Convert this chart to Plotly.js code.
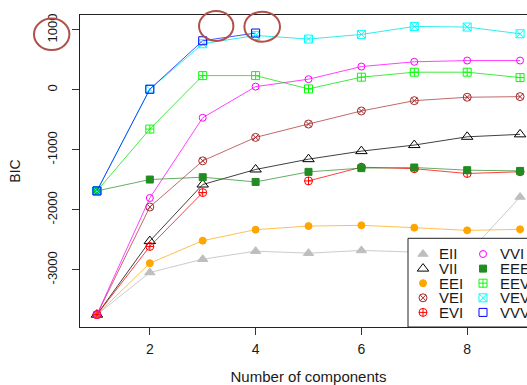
<!DOCTYPE html>
<html><head><meta charset="utf-8">
<script src="https://cdn.plot.ly/plotly-3.0.1.min.js"></script>
<style>html,body{margin:0;padding:0;overflow:hidden;background:#fff}#chart{width:560px;height:385px}</style>
</head><body><div id="chart"></div>
<script>
const components = [1,2,3,4,5,6,7,8,9];
const EII = [-3749,-3046,-2824,-2690,-2723,-2678,-2705,-2745,-1786];
const VII = [-3749,-2522,-1578,-1327,-1155,-1021,-920,-782,-741];
const EEI = [-3749,-2890,-2515,-2331,-2271,-2259,-2298,-2343,-2326];
const VEI = [-3749,-1953,-1183,-792,-569,-351,-179,-122,-112];
const EVI = [-3749,-2611,-1712,null,-1518,-1289,-1314,-1394,-1365];
const VVI = [-3749,-1803,-464,55,179,390,469,490,490];
const EEE = [-1685,-1495,-1456,-1535,-1367,-1305,-1294,-1339,-1351];
const EEV = [-1685,-653,239,239,17,213,296,296,206];
const VEV = [-1685,12,770,909,849,926,1059,1049,937];
const VVV = [-1685,12,820,949,null,null,null,null,null];
const modelNames = ["EII","VII","EEI","VEI","EVI","VVI","EEE","EEV","VEV","VVV"];
const series = {EII,VII,EEI,VEI,EVI,VVI,EEE,EEV,VEV,VVV};
const yTicks = [-3000,-2000,-1000,0,1000];
const xTicks = [2,4,6,8];

const styles = {
  EII:{symbol:'triangle-up',color:'#bebebe',line:'rgba(190,190,190,0.8)',size:9},
  VII:{symbol:'triangle-up-open',color:'#000000',line:'rgba(0,0,0,0.75)',size:10},
  EEI:{symbol:'circle',color:'#ffa500',line:'rgba(255,165,0,0.7)',size:7},
  VEI:{symbol:'circle-x-open',color:'#a52a2a',line:'rgba(165,42,42,0.7)',size:8},
  EVI:{symbol:'circle-cross-open',color:'#ff0000',line:'rgba(255,0,0,0.75)',size:8},
  VVI:{symbol:'circle-open',color:'#ff00ff',line:'rgba(255,0,255,0.75)',size:7},
  EEE:{symbol:'square',color:'#228b22',line:'rgba(34,139,34,0.7)',size:7},
  EEV:{symbol:'square-cross-open',color:'#00ff00',line:'rgba(0,230,0,0.75)',size:8},
  VEV:{symbol:'square-x-open',color:'#00ffff',line:'rgba(0,230,230,0.8)',size:8},
  VVV:{symbol:'square-open',color:'#0000ff',line:'rgba(0,0,255,0.7)',size:8}
};

// plot area pixel geometry (for legend/annotation placement)
const W = 560, H = 385, mL = 80, mR = 23, mT = 15, mB = 58;
const pw = W - mL - mR, ph = H - mT - mB;
const px = x => (x - mL) / pw;
const py = y => (H - mB - y) / ph;

const traces = modelNames.map(n => ({
  type:'scatter', mode:'lines+markers', name:n, x:components, y:series[n],
  connectgaps:false, showlegend:false, cliponaxis:false,
  line:{color:styles[n].line, width:1},
  marker:{symbol:styles[n].symbol, color:styles[n].color, size:styles[n].size, line:{color:styles[n].color, width:1}},
  hoverinfo:'x+y+name'
}));

// custom legend (box + keys) on an overlay subplot in paper-like coordinates
const boxL = px(408), boxT = py(238.3);
traces.push({type:'scatter', mode:'lines', x:[boxL,1.2,1.2,boxL,boxL], y:[0,0,boxT,boxT,0],
  xaxis:'x2', yaxis:'y2', fill:'toself', fillcolor:'#ffffff', line:{color:'#222',width:1},
  showlegend:false, hoverinfo:'skip'});
const colKeyX = [px(423), px(483)], colTextX = [px(437), px(498)];
const rowY = i => py(254 + 14.6*i);
const annotations = [];
modelNames.forEach((n,i) => {
  const c = Math.floor(i/5), r = i%5;
  traces.push({type:'scatter', mode:'markers', x:[colKeyX[c]], y:[rowY(r)], xaxis:'x2', yaxis:'y2',
    showlegend:false, hoverinfo:'skip', cliponaxis:false,
    marker:{symbol:styles[n].symbol, color:styles[n].color, size:styles[n].size, line:{color:styles[n].color,width:1}}});
  annotations.push({xref:'paper', yref:'paper', x:colTextX[c], y:rowY(r), xanchor:'left', yanchor:'middle',
    text:n, showarrow:false, font:{size:15, color:'#1a1a1a'}});
});

const ring = '#b0504a';
const shapes = [
  {type:'circle', xref:'paper', yref:'paper', x0:px(34), x1:px(69.4), y0:py(50), y1:py(18.6), line:{color:ring,width:2}},
  {type:'circle', xref:'paper', yref:'paper', x0:px(199), x1:px(233.4), y0:py(41), y1:py(11), line:{color:ring,width:2}},
  {type:'circle', xref:'paper', yref:'paper', x0:px(244.4), x1:px(280), y0:py(41.7), y1:py(11.7), line:{color:ring,width:2}}
];

const layout = {
  width:W, height:H, margin:{l:mL, r:mR, t:mT, b:mB}, paper_bgcolor:'#fff', plot_bgcolor:'#fff',
  font:{family:'"Liberation Sans", Arial, sans-serif', color:'#1a1a1a'},
  showlegend:false,
  xaxis:{range:[0.68,9.32], tickvals:xTicks, ticktext:xTicks.map(String), ticks:'outside', ticklen:7,
    tickcolor:'#333', showgrid:false, zeroline:false, showline:true, mirror:true, linecolor:'#222', linewidth:1,
    tickfont:{size:14}, automargin:false, ticklabelstandoff:2,
    title:{text:'Number of components', font:{size:15}, standoff:18}},
  yaxis:{range:[-3955,1250], tickvals:yTicks, ticktext:yTicks.map(String), ticks:'outside', ticklen:7,
    tickcolor:'#333', showgrid:false, zeroline:false, showline:true, mirror:true, linecolor:'#222', linewidth:1,
    tickangle:-90, tickfont:{size:13}, automargin:false, ticklabelstandoff:10,
    title:{text:'BIC', font:{size:14}, standoff:20}},
  xaxis2:{overlaying:'x', anchor:'y2', range:[0,1], visible:false, fixedrange:true},
  yaxis2:{overlaying:'y', anchor:'x2', range:[0,1], visible:false, fixedrange:true},
  shapes, annotations
};
Plotly.newPlot('chart', traces, layout, {displayModeBar:false, staticPlot:true});
</script></body></html>
